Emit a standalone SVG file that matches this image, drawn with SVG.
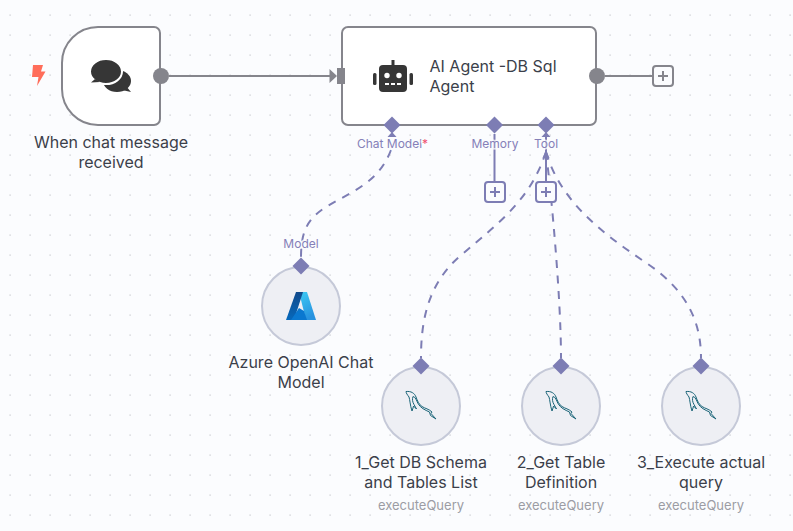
<svg xmlns="http://www.w3.org/2000/svg" width="793" height="531" viewBox="0 0 793 531">
<defs>
<style>
text{font-family:Inter,"Noto Sans","Liberation Sans",sans-serif}
.lbl{font-size:16px;fill:#3b3f4a;text-anchor:middle}
.sub{font-size:13px;fill:#9c9ca4;text-anchor:middle}
.port{font-size:12px;fill:#8580b8;text-anchor:middle;paint-order:stroke;stroke:#fbfcfe;stroke-width:3px;stroke-opacity:.8}
.box{fill:#fff;stroke:#85858c;stroke-width:2}
.disc{fill:#eeeff4;stroke:#c5c9d8;stroke-width:2}
.dia{fill:#7d7db4}
.flow{fill:none;stroke:#85858c;stroke-width:2}
.dash{fill:none;stroke:#7d7db4;stroke-width:2;stroke-dasharray:8 7.500}
.sol{fill:none;stroke:#7d7db4;stroke-width:2}
.pg{fill:#fbfcfe;stroke:#85858c;stroke-width:2}
.pv{fill:#fbfcfe;stroke:#7d7db4;stroke-width:2}
.ic{fill:#363636}
.fish{fill:none;stroke:#1a6478;stroke-width:1;stroke-linejoin:round}
</style>
<pattern id="dots" width="20" height="20" patternUnits="userSpaceOnUse" x="0" y="5">
<rect x="9.500" y="9.500" width="1.200" height="1.200" fill="#c4c6cc"/>
</pattern>
<linearGradient id="az1" x1="0" y1="0" x2="0" y2="1"><stop offset="0" stop-color="#114a8b"/><stop offset="1" stop-color="#0669bc"/></linearGradient>
<linearGradient id="az2" x1="0" y1="0" x2="0.400" y2="1"><stop offset="0" stop-color="#3ccbf4"/><stop offset="1" stop-color="#2892df"/></linearGradient>
<g id="dolphin">
<path class="fish" d="M-15-14.500C-10-15-6.500-13-5-9C-3.500-5-2.500-2 1 0.500C4 2.500 8 3 11 6L10 7.500L15 13L9.500 9.500L8.500 6C4 4-0.500 2-3-2.500C-4.500-5.500-5.500-9-8-9.500C-9-7-8.500-4-7-1.500L-4.500 3L-7.500 0L-8 2L-9 5C-11-1-11-6-12-9C-13.500-11-15-13-15-14.500Z"/>
</g>
</defs>
<rect width="793" height="531" fill="#fbfcfe"/>
<rect width="793" height="531" fill="url(#dots)"/>
<g id="connectors">
<path class="flow" d="M169 76H331"/>
<path d="M329.500 69L337 76L329.500 83Z" fill="#85858c"/>
<path class="flow" d="M605 76H653"/>
<path class="sol" d="M494.500 134V182"/>
<path class="sol" d="M546 134V182"/>
<path d="M541.500 137H550.500L546 132Z" fill="#7d7db4"/>
<path d="M387.500 137H396.500L392 132Z" fill="#7d7db4"/>
<path class="dash" d="M391 150C378 184 350 192 326 207C305 220 301 235 301 258"/>
<path class="dash" d="M546 152C530 200 500 222 460 256C428 284 421 320 421 358"/>
<path class="dash" d="M546 152C552 200 561 300 561 358"/>
<path class="dash" d="M546 152C560 200 600 232 645 262C690 292 701 325 701 358"/>
<path d="M546 150L542.500 158H549.500Z" fill="#7d7db4"/>
</g>
<g id="node-chat-trigger">
<path class="box" d="M98 27H154A6 6 0 0 1 160 33V119A6 6 0 0 1 154 125H98A36 36 0 0 1 62 89V63A36 36 0 0 1 98 27Z"/>
<circle cx="161" cy="76" r="8" fill="#85858c"/>
<path d="M33 65H43L41 71.500H45.500L37 86L38.500 77H32Z" fill="#ff6d5a"/>
<ellipse class="ic" cx="117" cy="81" rx="14" ry="11"/>
<path class="ic" d="M126 86L131 92L122 90Z"/>
<ellipse class="ic" cx="106" cy="71.500" rx="16" ry="12.500" stroke="#fff" stroke-width="2"/>
<path class="ic" d="M95 79L91 82.500L100 82Z"/>
<text class="lbl"><tspan x="111" y="148">When chat message</tspan><tspan x="111" y="168">received</tspan></text>
</g>
<g id="node-agent">
<rect class="box" x="342" y="27" width="254" height="98" rx="6"/>
<rect x="337" y="68" width="8" height="16" fill="#85858c"/>
<circle cx="597" cy="76" r="8" fill="#85858c"/>
<rect class="ic" x="379" y="65" width="28" height="27" rx="4"/>
<rect class="ic" x="391.500" y="60" width="3" height="6"/>
<rect class="ic" x="373" y="73" width="3.500" height="12" rx="1.500"/>
<rect class="ic" x="409.500" y="73" width="3.500" height="12" rx="1.500"/>
<circle cx="387" cy="75.500" r="2.700" fill="#fff"/>
<circle cx="399" cy="75.500" r="2.700" fill="#fff"/>
<path d="M385 84h4M391 84h4M397 84h4" stroke="#fff" stroke-width="2"/>
<text font-size="16" fill="#3b3f4a"><tspan x="429.500" y="72">AI Agent -DB Sql</tspan><tspan x="429.500" y="92">Agent</tspan></text>
<path class="dia" d="M392 116.500L400.500 125L392 133.500L383.500 125Z"/>
<path class="dia" d="M494.500 116.500L503 125L494.500 133.500L486 125Z"/>
<path class="dia" d="M546 116.500L554.500 125L546 133.500L537.500 125Z"/>
<text class="port" x="392.500" y="148">Chat Model<tspan fill="#f0506e">*</tspan></text>
<text class="port" x="495" y="148">Memory</text>
<text class="port" x="546" y="148">Tool</text>
</g>
<g id="plus-main">
<rect class="pg" x="653" y="66" width="20" height="20" rx="3"/>
<path d="M663 71V81M658 76H668" stroke="#85858c" stroke-width="2"/>
</g>
<g id="plus-memory">
<rect class="pv" x="485" y="182" width="20" height="20" rx="3"/>
<path d="M495 187V197M490 192H500" stroke="#7d7db4" stroke-width="2"/>
</g>
<g id="plus-tool">
<rect class="pv" x="536" y="182" width="20" height="20" rx="3"/>
<path d="M546 187V197M541 192H551" stroke="#7d7db4" stroke-width="2"/>
</g>
<g id="node-azure">
<circle class="disc" cx="301" cy="306" r="39"/>
<path d="M299 292H307L316 320H306Z" fill="url(#az2)"/>
<path d="M296 292H303L294 320H286Z" fill="url(#az1)"/>
<path d="M299 308L304 311L307 320H291Z" fill="#0a78d0"/>
<path class="dia" d="M301 257.500L309.500 266L301 274.500L292.500 266Z"/>
<text class="port" x="301" y="248">Model</text>
<text class="lbl"><tspan x="301" y="368">Azure OpenAI Chat</tspan><tspan x="301" y="388">Model</tspan></text>
</g>
<g id="node-tool-1">
<circle class="disc" cx="421" cy="406" r="39"/>
<use href="#dolphin" x="421" y="406"/>
<path class="dia" d="M421 357.500L429.500 366L421 374.500L412.500 366Z"/>
<text class="lbl"><tspan x="421" y="468">1_Get DB Schema</tspan><tspan x="421" y="488">and Tables List</tspan></text>
<text class="sub" x="421" y="510">executeQuery</text>
</g>
<g id="node-tool-2">
<circle class="disc" cx="561" cy="406" r="39"/>
<use href="#dolphin" x="561" y="406"/>
<path class="dia" d="M561 357.500L569.500 366L561 374.500L552.500 366Z"/>
<text class="lbl"><tspan x="561" y="468">2_Get Table</tspan><tspan x="561" y="488">Definition</tspan></text>
<text class="sub" x="561" y="510">executeQuery</text>
</g>
<g id="node-tool-3">
<circle class="disc" cx="701" cy="406" r="39"/>
<use href="#dolphin" x="701" y="406"/>
<path class="dia" d="M701 357.500L709.500 366L701 374.500L692.500 366Z"/>
<text class="lbl"><tspan x="701" y="468">3_Execute actual</tspan><tspan x="701" y="488">query</tspan></text>
<text class="sub" x="701" y="510">executeQuery</text>
</g>
</svg>
